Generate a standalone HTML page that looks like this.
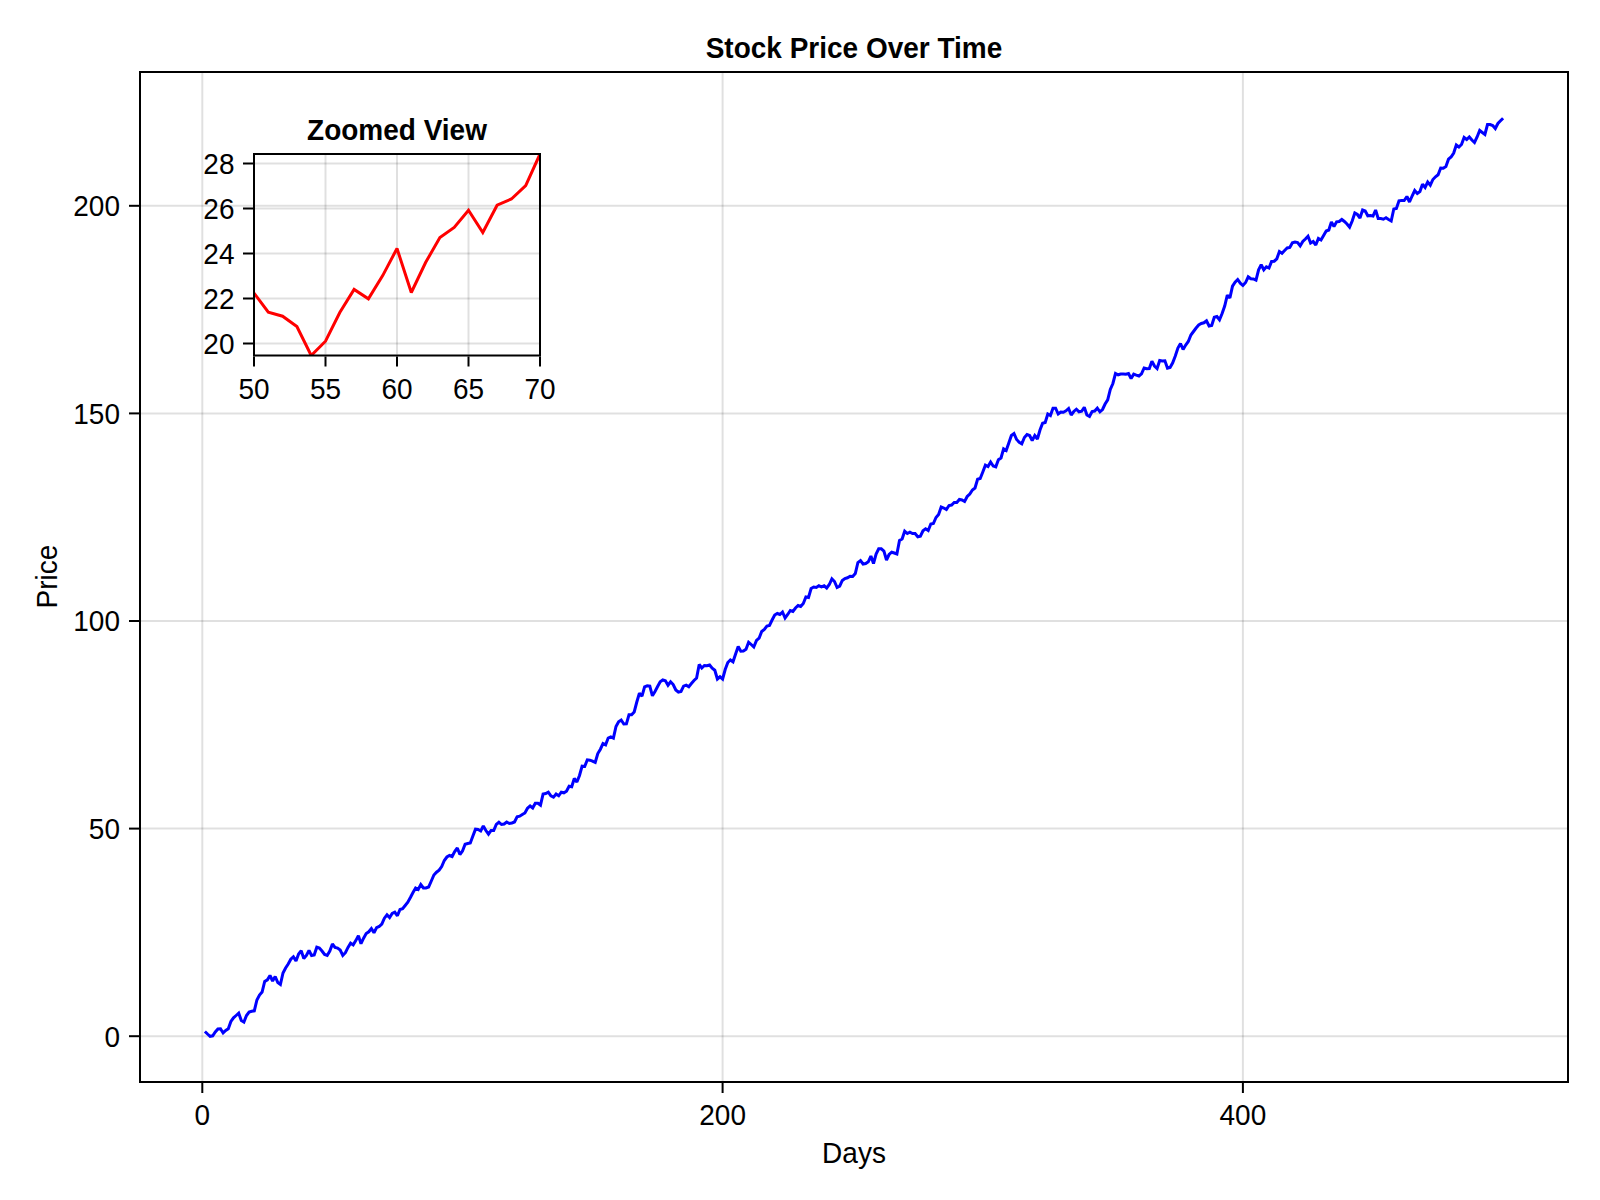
<!DOCTYPE html>
<html><head><meta charset="utf-8"><title>Stock Price Over Time</title>
<style>
html,body{margin:0;padding:0;background:#fff}
svg{display:block}
text{font-family:"Liberation Sans",sans-serif;font-size:28px;fill:#000}
.b{font-weight:bold}
</style></head><body>
<svg width="1600" height="1200" viewBox="0 0 1600 1200">
<rect width="1600" height="1200" fill="#fff"/>
<g stroke="#000" stroke-opacity="0.12" stroke-width="2"><line x1="202.3" y1="73" x2="202.3" y2="1081"/><line x1="722.6" y1="73" x2="722.6" y2="1081"/><line x1="1242.9" y1="73" x2="1242.9" y2="1081"/><line x1="141" y1="1036.2" x2="1567" y2="1036.2"/><line x1="141" y1="828.6" x2="1567" y2="828.6"/><line x1="141" y1="621.0" x2="1567" y2="621.0"/><line x1="141" y1="413.4" x2="1567" y2="413.4"/><line x1="141" y1="205.8" x2="1567" y2="205.8"/></g>
<polyline fill="none" stroke="#0000ff" stroke-width="3" stroke-linejoin="miter" stroke-miterlimit="2" points="204.9,1031.5 207.5,1034.0 210.1,1036.3 212.7,1035.8 215.3,1032.0 217.9,1029.0 220.5,1028.8 223.1,1033.0 225.7,1030.5 228.3,1028.8 230.9,1021.5 233.5,1017.8 236.1,1015.5 238.7,1013.2 241.3,1020.5 243.9,1022.0 246.5,1015.5 249.1,1012.0 251.7,1011.2 254.3,1010.8 256.9,1000.0 259.5,995.0 262.1,992.0 264.7,981.5 267.4,979.8 270.0,975.5 272.6,981.0 275.2,976.5 277.8,982.5 280.4,984.5 283.0,973.0 285.6,968.0 288.2,964.0 290.8,959.2 293.4,956.8 296.0,961.0 298.6,954.0 301.2,950.8 303.8,958.5 306.4,955.5 309.0,950.5 311.6,955.5 314.2,955.0 316.8,947.2 319.4,948.0 322.0,951.0 324.6,954.5 327.2,955.5 329.8,951.0 332.4,943.9 335.0,947.4 337.6,948.1 340.2,950.0 342.8,955.4 345.4,952.7 348.0,947.4 350.6,943.2 353.2,944.9 355.8,940.6 358.4,935.6 361.0,943.7 363.6,938.2 366.2,933.6 368.8,931.8 371.4,928.6 374.0,932.7 376.6,927.6 379.2,926.5 381.8,924.0 384.4,918.2 387.0,914.8 389.6,917.5 392.2,913.5 394.8,912.2 397.4,915.8 400.0,909.5 402.6,908.8 405.2,905.5 407.8,902.2 410.4,897.5 413.0,892.5 415.6,888.0 418.2,889.5 420.8,884.5 423.4,888.0 426.0,888.0 428.6,887.0 431.3,881.0 433.9,875.0 436.5,872.2 439.1,870.2 441.7,866.5 444.3,860.5 446.9,857.0 449.5,855.5 452.1,856.5 454.7,851.5 457.3,848.0 459.9,854.5 462.5,851.0 465.1,844.2 467.7,843.5 470.3,843.0 472.9,836.0 475.5,829.2 478.1,829.5 480.7,831.0 483.3,826.0 485.9,830.5 488.5,834.2 491.1,830.5 493.7,830.5 496.3,824.5 498.9,822.2 501.5,824.5 504.1,824.0 506.7,822.0 509.3,823.5 511.9,823.0 514.5,822.0 517.1,816.8 519.7,816.2 522.3,814.5 524.9,813.0 527.5,808.2 530.1,806.0 532.7,808.0 535.3,803.2 537.9,803.2 540.5,805.2 543.1,794.0 545.7,793.5 548.3,792.2 550.9,795.8 553.5,797.2 556.1,794.0 558.7,795.8 561.3,792.2 563.9,792.8 566.5,791.2 569.1,786.2 571.7,786.8 574.3,778.5 576.9,782.0 579.5,775.5 582.1,766.2 584.7,766.5 587.3,759.8 589.9,760.2 592.5,761.2 595.2,762.5 597.8,753.5 600.4,749.2 603.0,743.5 605.6,744.8 608.2,738.0 610.8,736.8 613.4,738.0 616.0,726.5 618.6,721.8 621.2,720.0 623.8,724.0 626.4,723.8 629.0,714.8 631.6,714.8 634.2,712.0 636.8,702.0 639.4,693.2 642.0,696.2 644.6,686.8 647.2,685.8 649.8,686.2 652.4,695.8 655.0,691.5 657.6,686.5 660.2,681.8 662.8,680.0 665.4,680.8 668.0,685.2 670.6,681.8 673.2,684.5 675.8,690.0 678.4,692.2 681.0,691.5 683.6,686.2 686.2,685.2 688.8,686.8 691.4,683.5 694.0,680.5 696.6,678.0 699.2,664.5 701.8,668.0 704.4,665.5 707.0,665.8 709.6,665.0 712.2,668.2 714.8,670.2 717.4,679.0 720.0,676.8 722.6,679.0 725.2,669.5 727.8,662.5 730.4,660.0 733.0,661.8 735.6,654.0 738.2,646.5 740.8,651.2 743.4,651.0 746.0,649.2 748.6,642.2 751.2,644.5 753.8,647.0 756.5,640.5 759.1,638.2 761.7,631.5 764.3,629.5 766.9,626.0 769.5,625.5 772.1,620.0 774.7,615.0 777.3,613.5 779.9,614.5 782.5,612.0 785.1,618.0 787.7,614.5 790.3,610.5 792.9,611.5 795.5,608.0 798.1,605.5 800.7,606.5 803.3,603.5 805.9,597.0 808.5,597.5 811.1,588.5 813.7,587.0 816.3,587.5 818.9,585.8 821.5,586.8 824.1,585.8 826.7,588.0 829.3,584.5 831.9,578.8 834.5,581.5 837.1,587.5 839.7,586.2 842.3,580.5 844.9,578.5 847.5,577.8 850.1,576.2 852.7,576.5 855.3,573.5 857.9,562.5 860.5,560.5 863.1,564.0 865.7,563.5 868.3,561.8 870.9,556.0 873.5,563.5 876.1,554.0 878.7,548.8 881.3,548.8 883.9,551.0 886.5,560.0 889.1,554.5 891.7,552.2 894.3,553.0 896.9,554.0 899.5,540.5 902.1,539.0 904.7,531.2 907.3,533.5 909.9,532.2 912.5,533.5 915.1,533.5 917.8,536.8 920.4,536.2 923.0,530.8 925.6,528.8 928.2,530.5 930.8,524.0 933.4,523.5 936.0,517.5 938.6,514.5 941.2,507.0 943.8,508.0 946.4,509.5 949.0,505.5 951.6,505.0 954.2,502.5 956.8,502.5 959.4,499.5 962.0,500.0 964.6,501.5 967.2,496.5 969.8,494.0 972.4,490.0 975.0,488.0 977.6,479.2 980.2,478.5 982.8,472.0 985.4,465.2 988.0,466.5 990.6,462.0 993.2,466.0 995.8,466.8 998.4,459.8 1001.0,458.0 1003.6,448.8 1006.2,450.5 1008.8,443.0 1011.4,435.5 1014.0,433.5 1016.6,439.5 1019.2,442.2 1021.8,443.8 1024.4,437.5 1027.0,434.5 1029.6,435.5 1032.2,440.5 1034.8,435.5 1037.4,439.0 1040.0,430.0 1042.6,423.2 1045.2,422.5 1047.8,414.0 1050.4,415.5 1053.0,408.2 1055.6,408.2 1058.2,414.0 1060.8,412.0 1063.4,412.2 1066.0,410.8 1068.6,408.5 1071.2,415.0 1073.8,411.5 1076.4,409.2 1079.0,411.8 1081.7,411.2 1084.3,407.2 1086.9,415.0 1089.5,416.5 1092.1,411.5 1094.7,411.0 1097.3,408.2 1099.9,411.8 1102.5,409.5 1105.1,404.0 1107.7,399.8 1110.3,389.5 1112.9,383.5 1115.5,373.5 1118.1,374.8 1120.7,374.0 1123.3,374.0 1125.9,374.2 1128.5,373.5 1131.1,378.5 1133.7,374.2 1136.3,375.2 1138.9,376.0 1141.5,373.8 1144.1,368.0 1146.7,368.8 1149.3,368.5 1151.9,361.2 1154.5,366.0 1157.1,368.5 1159.7,360.5 1162.3,361.0 1164.9,360.8 1167.5,368.2 1170.1,367.5 1172.7,362.8 1175.3,356.0 1177.9,348.0 1180.5,343.5 1183.1,349.5 1185.7,345.0 1188.3,341.5 1190.9,335.0 1193.5,331.5 1196.1,328.0 1198.7,325.0 1201.3,323.5 1203.9,322.8 1206.5,320.8 1209.1,326.0 1211.7,325.5 1214.3,317.2 1216.9,316.5 1219.5,319.8 1222.1,313.5 1224.7,306.0 1227.3,295.2 1229.9,298.0 1232.5,286.2 1235.1,282.2 1237.7,279.5 1240.3,283.2 1242.9,285.5 1245.6,282.5 1248.2,276.8 1250.8,278.8 1253.4,279.0 1256.0,280.2 1258.6,269.8 1261.2,264.8 1263.8,269.8 1266.4,266.8 1269.0,268.0 1271.6,261.5 1274.2,261.2 1276.8,258.8 1279.4,251.5 1282.0,253.2 1284.6,250.5 1287.2,248.0 1289.8,247.5 1292.4,242.8 1295.0,242.0 1297.6,242.5 1300.2,245.8 1302.8,241.5 1305.4,239.0 1308.0,236.2 1310.6,243.0 1313.2,241.5 1315.8,245.0 1318.4,238.5 1321.0,240.0 1323.6,235.5 1326.2,231.0 1328.8,230.0 1331.4,222.0 1334.0,226.5 1336.6,221.8 1339.2,221.5 1341.8,219.5 1344.4,221.5 1347.0,224.0 1349.6,227.2 1352.2,221.0 1354.8,213.0 1357.4,214.5 1360.0,218.0 1362.6,210.0 1365.2,211.0 1367.8,215.8 1370.4,215.5 1373.0,216.0 1375.6,210.0 1378.2,218.5 1380.8,218.5 1383.4,219.2 1386.0,217.8 1388.6,219.5 1391.2,221.0 1393.8,209.0 1396.4,208.5 1399.0,200.8 1401.6,200.5 1404.2,200.5 1406.9,196.5 1409.5,202.0 1412.1,196.0 1414.7,190.5 1417.3,193.5 1419.9,191.5 1422.5,184.2 1425.1,187.5 1427.7,182.0 1430.3,185.2 1432.9,179.5 1435.5,176.8 1438.1,174.8 1440.7,168.0 1443.3,168.2 1445.9,166.5 1448.5,159.2 1451.1,157.0 1453.7,153.0 1456.3,145.0 1458.9,147.0 1461.5,144.5 1464.1,137.5 1466.7,139.5 1469.3,137.0 1471.9,140.0 1474.5,142.5 1477.1,137.0 1479.7,130.5 1482.3,132.5 1484.9,134.5 1487.5,124.5 1490.1,124.5 1492.7,125.5 1495.3,128.5 1497.9,123.5 1500.5,120.8 1503.1,118.2"/>
<rect x="140" y="72" width="1428" height="1010" fill="none" stroke="#000" stroke-width="2"/>
<g stroke="#000" stroke-width="2"><line x1="202.3" y1="1083" x2="202.3" y2="1093"/><line x1="722.6" y1="1083" x2="722.6" y2="1093"/><line x1="1242.9" y1="1083" x2="1242.9" y2="1093"/><line x1="129" y1="1036.2" x2="139" y2="1036.2"/><line x1="129" y1="828.6" x2="139" y2="828.6"/><line x1="129" y1="621.0" x2="139" y2="621.0"/><line x1="129" y1="413.4" x2="139" y2="413.4"/><line x1="129" y1="205.8" x2="139" y2="205.8"/></g>
<text transform="translate(202.3,1125.0) scale(1,1.045)" text-anchor="middle">0</text><text transform="translate(722.6,1125.0) scale(1,1.045)" text-anchor="middle">200</text><text transform="translate(1242.9,1125.0) scale(1,1.045)" text-anchor="middle">400</text><text transform="translate(120.0,1046.5) scale(1,1.045)" text-anchor="end">0</text><text transform="translate(120.0,838.9) scale(1,1.045)" text-anchor="end">50</text><text transform="translate(120.0,631.3) scale(1,1.045)" text-anchor="end">100</text><text transform="translate(120.0,423.7) scale(1,1.045)" text-anchor="end">150</text><text transform="translate(120.0,216.1) scale(1,1.045)" text-anchor="end">200</text>
<text transform="translate(854.0,57.6) scale(1,1.045)" text-anchor="middle" class="b">Stock Price Over Time</text>
<text transform="translate(854.0,1163.0) scale(1,1.045)" text-anchor="middle">Days</text>
<text transform="translate(57.2,576.6) rotate(-90) scale(1,1.045)" text-anchor="middle">Price</text>
<g stroke="#000" stroke-opacity="0.12" stroke-width="2"><line x1="325.5" y1="155" x2="325.5" y2="354.5"/><line x1="397.0" y1="155" x2="397.0" y2="354.5"/><line x1="468.5" y1="155" x2="468.5" y2="354.5"/><line x1="255" y1="163.5" x2="539" y2="163.5"/><line x1="255" y1="208.5" x2="539" y2="208.5"/><line x1="255" y1="253.5" x2="539" y2="253.5"/><line x1="255" y1="298.5" x2="539" y2="298.5"/><line x1="255" y1="343.5" x2="539" y2="343.5"/></g>
<clipPath id="ic"><rect x="254" y="154" width="286" height="201.5"/></clipPath>
<polyline clip-path="url(#ic)" fill="none" stroke="#ff0000" stroke-width="3" stroke-linejoin="miter" stroke-miterlimit="2" points="254.0,293.1 268.3,312.2 282.6,316.2 296.9,326.5 311.2,355.5 325.5,341.2 339.8,312.5 354.1,289.4 368.4,298.8 382.7,275.6 397.0,248.5 411.3,292.5 425.6,262.5 439.9,237.5 454.2,227.5 468.5,210.2 482.8,232.5 497.1,205.2 511.4,199.0 525.7,185.6 540.0,154.0"/>
<rect x="254" y="154" width="286" height="201.5" fill="none" stroke="#000" stroke-width="2"/>
<g stroke="#000" stroke-width="2"><line x1="254.0" y1="356.5" x2="254.0" y2="366.5"/><line x1="325.5" y1="356.5" x2="325.5" y2="366.5"/><line x1="397.0" y1="356.5" x2="397.0" y2="366.5"/><line x1="468.5" y1="356.5" x2="468.5" y2="366.5"/><line x1="540.0" y1="356.5" x2="540.0" y2="366.5"/><line x1="243" y1="163.5" x2="253" y2="163.5"/><line x1="243" y1="208.5" x2="253" y2="208.5"/><line x1="243" y1="253.5" x2="253" y2="253.5"/><line x1="243" y1="298.5" x2="253" y2="298.5"/><line x1="243" y1="343.5" x2="253" y2="343.5"/></g>
<text transform="translate(254.0,398.5) scale(1,1.045)" text-anchor="middle">50</text><text transform="translate(325.5,398.5) scale(1,1.045)" text-anchor="middle">55</text><text transform="translate(397.0,398.5) scale(1,1.045)" text-anchor="middle">60</text><text transform="translate(468.5,398.5) scale(1,1.045)" text-anchor="middle">65</text><text transform="translate(540.0,398.5) scale(1,1.045)" text-anchor="middle">70</text><text transform="translate(234.5,173.8) scale(1,1.045)" text-anchor="end">28</text><text transform="translate(234.5,218.8) scale(1,1.045)" text-anchor="end">26</text><text transform="translate(234.5,263.8) scale(1,1.045)" text-anchor="end">24</text><text transform="translate(234.5,308.8) scale(1,1.045)" text-anchor="end">22</text><text transform="translate(234.5,353.8) scale(1,1.045)" text-anchor="end">20</text>
<text transform="translate(397.0,139.8) scale(1,1.045)" text-anchor="middle" class="b">Zoomed View</text>
</svg>
</body></html>
